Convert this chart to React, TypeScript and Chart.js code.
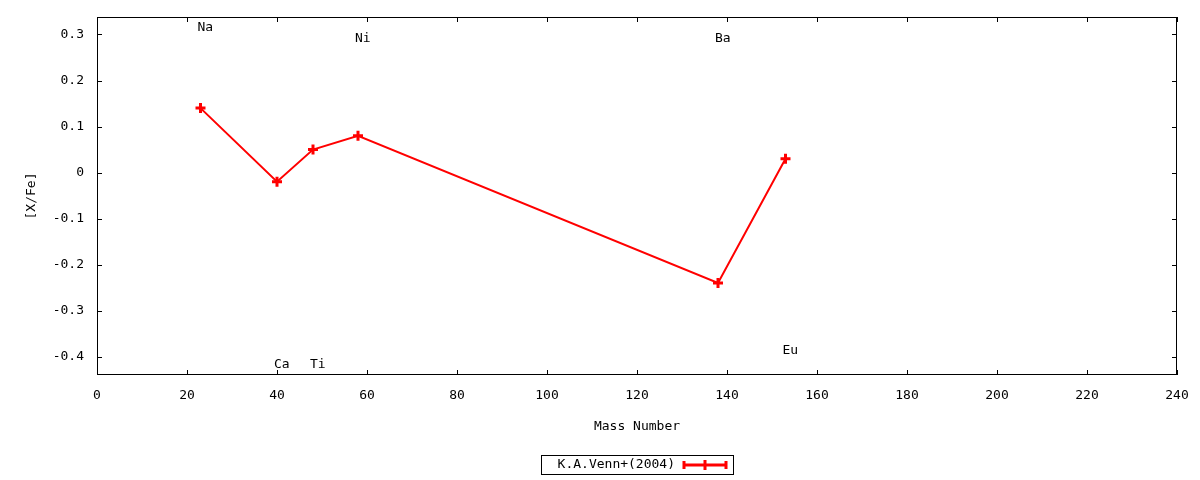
import React, { useRef, useEffect } from "react";
import { Chart } from "chart.js/auto";

// Venn et al. (2004) abundances vs. mass number
const massNumbers = [23, 40, 48, 58, 138, 153];
const xFe = [0.14, -0.02, 0.05, 0.08, -0.24, 0.03];
const elements = ["Na", "Ca", "Ti", "Ni", "Ba", "Eu"];
// y value (in [X/Fe] units) where each element name is written
const labelY = [0.314, -0.418, -0.418, 0.29, 0.29, -0.387];
const xTicks = [0, 20, 40, 60, 80, 100, 120, 140, 160, 180, 200, 220, 240];
const yTicks = [-0.4, -0.3, -0.2, -0.1, 0, 0.1, 0.2, 0.3];
const seriesLabel = "K.A.Venn+(2004)";

const FONT_FAMILY = "'DejaVu Sans Mono', 'Liberation Mono', monospace";
const FONT_SIZE = 13;
const RED = "#ff0000";

// gnuplot-like frame: border, inward ticks on all sides, labels, key box
const gnuplotLook = {
  id: "gnuplotLook",
  afterDraw(chart: any) {
    const { ctx, chartArea } = chart;
    const { left, right, top, bottom } = chartArea;
    const xs = chart.scales.x;
    const ys = chart.scales.y;
    const tick = 5;

    ctx.save();
    ctx.strokeStyle = "#000";
    ctx.lineWidth = 1;
    ctx.strokeRect(left + 0.5, top + 0.5, right - left - 1, bottom - top - 1);

    ctx.beginPath();
    xTicks.forEach((v) => {
      const px = Math.round(xs.getPixelForValue(v)) + 0.5;
      ctx.moveTo(px, bottom);
      ctx.lineTo(px, bottom - tick);
      ctx.moveTo(px, top);
      ctx.lineTo(px, top + tick);
    });
    yTicks.forEach((v) => {
      const py = Math.round(ys.getPixelForValue(v)) + 0.5;
      ctx.moveTo(left, py);
      ctx.lineTo(left + tick, py);
      ctx.moveTo(right, py);
      ctx.lineTo(right - tick, py);
    });
    ctx.stroke();

    // element names
    ctx.fillStyle = "#000";
    ctx.font = `${FONT_SIZE}px ${FONT_FAMILY}`;
    ctx.textAlign = "left";
    ctx.textBaseline = "middle";
    elements.forEach((name, i) => {
      ctx.fillText(
        name,
        xs.getPixelForValue(massNumbers[i]) - 3,
        ys.getPixelForValue(labelY[i])
      );
    });

    // key box below the plot
    const cx = (left + right) / 2;
    const boxW = 192;
    const boxL = Math.round(cx - boxW / 2);
    const boxT = 455;
    const boxH = 19;
    ctx.strokeRect(boxL + 0.5, boxT + 0.5, boxW, boxH);
    const midY = boxT + boxH / 2 + 0.5;
    ctx.textAlign = "right";
    ctx.fillText(seriesLabel, boxL + 134, midY);

    const l0 = boxL + 143;
    const l1 = boxL + 185;
    ctx.strokeStyle = RED;
    ctx.lineWidth = 3;
    ctx.beginPath();
    ctx.moveTo(l0, midY);
    ctx.lineTo(l1, midY);
    ctx.moveTo(l0, midY - 4);
    ctx.lineTo(l0, midY + 4);
    ctx.moveTo(l1, midY - 4);
    ctx.lineTo(l1, midY + 4);
    const m = (l0 + l1) / 2;
    ctx.moveTo(m, midY - 5);
    ctx.lineTo(m, midY + 5);
    ctx.moveTo(m - 5, midY);
    ctx.lineTo(m + 5, midY);
    ctx.stroke();
    ctx.restore();
  },
};

const VennChart = () => {
  const chartRef = useRef<any>(null);
  const chartInstanceRef = useRef<any>(null);

  useEffect(() => {
    const ctx = chartRef.current.getContext("2d");
    if (chartInstanceRef.current) {
      chartInstanceRef.current.destroy();
    }

    const font = { family: FONT_FAMILY, size: FONT_SIZE };

    chartInstanceRef.current = new Chart(ctx, {
      type: "line",
      data: {
        datasets: [
          {
            label: seriesLabel,
            data: massNumbers.map((m, i) => ({ x: m, y: xFe[i] })),
            borderColor: RED,
            backgroundColor: RED,
            borderWidth: 2,
            pointStyle: "cross",
            pointRadius: 5,
            pointBorderWidth: 3,
            pointBorderColor: RED,
            tension: 0,
            fill: false,
          },
        ],
      },
      options: {
        responsive: false,
        animation: false,
        devicePixelRatio: 1,
        layout: { padding: { left: 0, top: 17, right: 23, bottom: 0 } },
        plugins: {
          legend: { display: false },
          tooltip: { enabled: false },
        },
        scales: {
          x: {
            type: "linear",
            min: 0,
            max: 240,
            afterBuildTicks: (scale: any) => {
              scale.ticks = xTicks.map((v) => ({ value: v }));
            },
            afterFit: (scale: any) => {
              scale.height = 105;
              scale.paddingLeft = 0;
              scale.paddingRight = 0;
            },
            grid: { display: false, drawTicks: false },
            border: { display: false },
            ticks: {
              color: "#000",
              font,
              padding: 13,
              maxRotation: 0,
              autoSkip: false,
              callback: (v: any) => String(v),
            },
            title: {
              display: true,
              text: "Mass Number",
              color: "#000",
              font,
              padding: { top: 0, bottom: 46 },
            },
          },
          y: {
            type: "linear",
            min: -0.44,
            max: 0.338,
            afterBuildTicks: (scale: any) => {
              scale.ticks = yTicks.map((v) => ({ value: v }));
            },
            afterFit: (scale: any) => {
              scale.width = 97;
              scale.paddingTop = 0;
              scale.paddingBottom = 0;
            },
            grid: { display: false, drawTicks: false },
            border: { display: false },
            ticks: {
              color: "#000",
              font,
              padding: 13,
              autoSkip: false,
              callback: (v: any) => String(v),
            },
            title: {
              display: true,
              text: "[X/Fe]",
              color: "#000",
              font,
              padding: { top: 24, bottom: 0 },
            },
          },
        },
      },
      plugins: [gnuplotLook],
    });

    return () => {
      if (chartInstanceRef.current) {
        chartInstanceRef.current.destroy();
      }
    };
  }, []);

  return (
    <div style={{ position: "fixed", left: 0, top: 0, width: 1200, height: 480, background: "#fff" }}>
      <canvas ref={chartRef} width={1200} height={480} style={{ display: "block" }} />
    </div>
  );
};

export default function App() {
  return <VennChart />;
}
